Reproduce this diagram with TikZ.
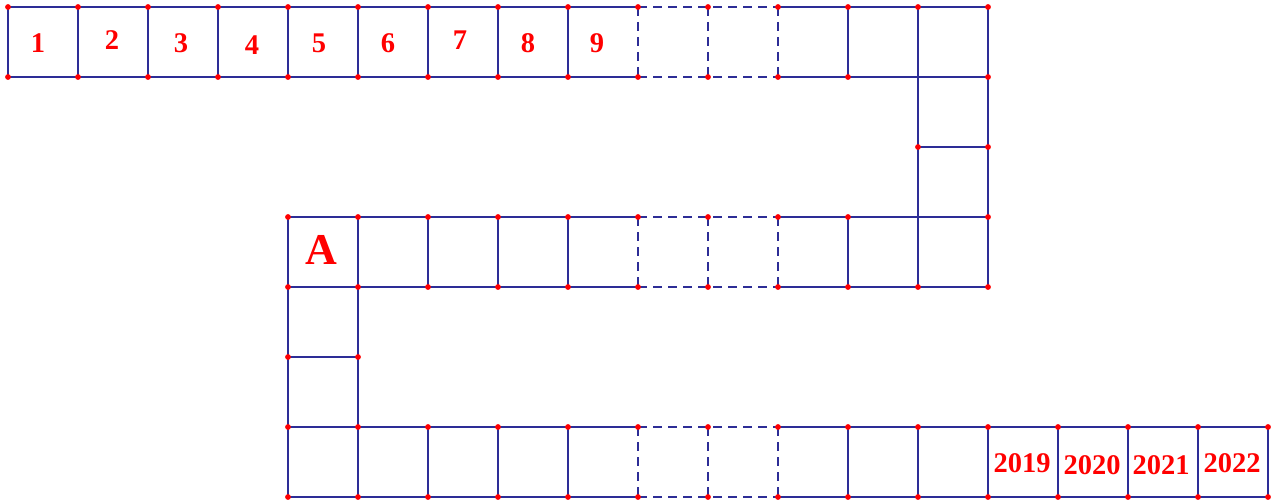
\documentclass[tikz,border=0pt]{standalone}
\usepackage{fontspec}
\setmainfont{Liberation Serif}
\begin{document}
\begin{tikzpicture}[x=1pt,y=-1pt,
  grid/.style={draw=gridblue,line width=2.2pt},
  gdash/.style={grid,dash pattern=on 9pt off 6pt},
  lab/.style={text=red,font=\bfseries\fontsize{28.5}{28.5}\selectfont,inner sep=0pt},
  biglab/.style={text=red,font=\bfseries\fontsize{44}{44}\selectfont,inner sep=0pt},
  dot/.style={fill=red,draw=none}]
\definecolor{gridblue}{RGB}{45,45,150}
\useasboundingbox (0,0) rectangle (1276,500);
% top row
\foreach \y in {7,77}{
  \draw[grid] (8,\y) -- (638,\y);
  \draw[gdash] (638,\y) -- (778,\y);
  \draw[grid] (778,\y) -- (988,\y);
}
\foreach \x in {8,78,148,218,288,358,428,498,568,848}{\draw[grid] (\x,7) -- (\x,77);}
\foreach \x in {638,708,778}{\draw[gdash] (\x,7) -- (\x,77);}
\draw[grid] (918,7) -- (918,287);
\draw[grid] (988,7) -- (988,287);
\draw[grid] (918,147) -- (988,147);
% middle row
\foreach \y in {217,287}{
  \draw[grid] (288,\y) -- (638,\y);
  \draw[gdash] (638,\y) -- (778,\y);
  \draw[grid] (778,\y) -- (988,\y);
}
\draw[grid] (288,217) -- (288,497);
\draw[grid] (358,217) -- (358,497);
\draw[grid] (288,357) -- (358,357);
\foreach \x in {428,498,568,848}{\draw[grid] (\x,217) -- (\x,287);}
\foreach \x in {638,708,778}{\draw[gdash] (\x,217) -- (\x,287);}
% bottom row
\foreach \y in {427,497}{
  \draw[grid] (288,\y) -- (638,\y);
  \draw[gdash] (638,\y) -- (778,\y);
  \draw[grid] (778,\y) -- (1268,\y);
}
\foreach \x in {428,498,568,848,918,988,1058,1128,1198,1268}{\draw[grid] (\x,427) -- (\x,497);}
\foreach \x in {638,708,778}{\draw[gdash] (\x,427) -- (\x,497);}
% dots
\foreach \x in {8,78,148,218,288,358,428,498,568,638,708,778,848,918,988}{\fill[dot] (\x,7) circle (2.9);}
\foreach \x in {8,78,148,218,288,358,428,498,568,638,708,778,848,988}{\fill[dot] (\x,77) circle (2.9);}
\fill[dot] (918,147) circle (2.9);
\fill[dot] (988,147) circle (2.9);
\foreach \x in {288,358,428,498,568,638,708,778,848,988}{\fill[dot] (\x,217) circle (2.9);}
\foreach \x in {288,358,428,498,568,638,708,778,848,918,988}{\fill[dot] (\x,287) circle (2.9);}
\fill[dot] (288,357) circle (2.9);
\fill[dot] (358,357) circle (2.9);
\foreach \x in {288,358,428,498,568,638,708,778,848,918,988,1058,1128,1198,1268}{
  \fill[dot] (\x,427) circle (2.9);
  \fill[dot] (\x,497) circle (2.9);
}
% labels
\node[lab] (n1) at (38,43) {1};
\node[lab] (n2) at (112,40) {2};
\node[lab] (n3) at (181,43) {3};
\node[lab] (n4) at (252,45) {4};
\node[lab] (n5) at (319,43) {5};
\node[lab] (n6) at (388,43) {6};
\node[lab] (n7) at (460,40) {7};
\node[lab] (n8) at (528,43) {8};
\node[lab] (n9) at (597,43) {9};
\node[biglab] (nA) at (321,250) {A};
\node[lab] (y19) at (1022,463) {2019};
\node[lab] (y20) at (1092,465) {2020};
\node[lab] (y21) at (1161,465) {2021};
\node[lab] (y22) at (1232,463) {2022};
\end{tikzpicture}
\end{document}
